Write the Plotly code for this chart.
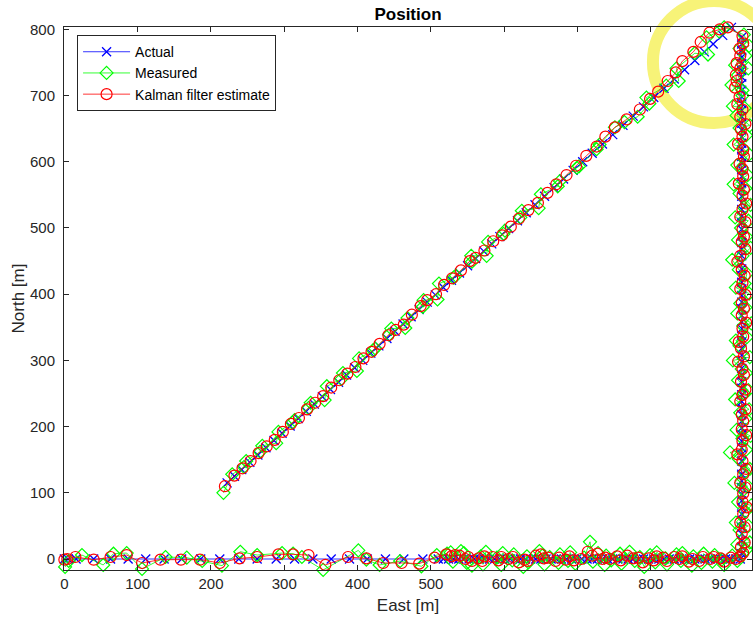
import plotly.graph_objects as go

# ---------------- data (East [m], North [m]) ----------------
# Leg 1: heading east, sparse samples
actual_leg1 = [(0, 0), (5, 0), (16, 0), (40, 0), (63, 0), (87, 0), (111, 0), (136, 0), (160, 0), (186, 0),
               (212, 0), (238, 0), (263, 0), (289, 0), (314, 0), (339, 0), (364, 0), (389, 0), (413, 0),
               (438, 0), (463, 0), (489, 0), (510, 0)]
measured_leg1 = [(1, -12), (6, -3), (24, 6), (53, -9), (67, 8), (85, 9), (106, -15), (138, 3), (167, 2), (188, -3),
                 (215, -10), (240, 11), (263, 6), (297, 9), (312, 8), (324, 3), (353, -16.5), (401, 13), (412, -1),
                 (430, -9), (458, -3), (487, -11), (508, 6)]
kalman_leg1 = [(0, -1), (4, 0), (15, 3), (40, -1), (63, 3), (85, 6), (106, -6), (131, -1), (159, -1), (185, -1),
               (212, -6), (239, 1), (263, 3), (292, 7), (312, 7), (333, 6), (356, -9), (387, 3), (412, 1),
               (435, -6), (460, -6), (484, -7), (505, 2)]

# Leg 2: heading east, dense samples
actual_leg2 = [(517, 0), (524, 0), (531, 0), (538, 0), (545, 0), (552, 0), (559, 0), (566, 0), (573, 0), (580, 0),
               (587, 0), (594, 0), (601, 0), (608, 0), (615, 0), (622, 0), (629, 0), (636, 0), (643, 0), (650, 0),
               (657, 0), (664, 0), (671, 0), (678, 0), (685, 0), (692, 0), (699, 0), (706, 0), (713, 0), (720, 0),
               (727, 0), (734, 0), (741, 0), (748, 0), (755, 0), (762, 0), (769, 0), (776, 0), (783, 0), (790, 0),
               (797, 0), (804, 0), (811, 0), (818, 0), (825, 0), (832, 0), (839, 0), (846, 0), (853, 0), (860, 0),
               (867, 0), (874, 0), (881, 0), (888, 0), (895, 0), (902, 0), (909, 0), (916, 0), (922, 0)]
measured_leg2 = [(522, 8), (530, -4), (527, 10), (541, 12), (549, -6), (545, 9), (556, -10), (568, 4), (571, -8),
                 (575, 11), (590, 2), (596, -9), (598, 9), (611, -2), (613, 7), (626, -12), (631, 4), (633, -5),
                 (648, 12), (652, 5), (655, -8), (662, 3), (674, -6), (676, 7), (687, -3), (690, 10), (697, -7),
                 (709, 2), (717, 26), (721, -4), (728, 9), (737, -9), (739, 5), (746, -2), (758, 8), (760, -7),
                 (771, 11), (778, -3), (785, 3), (791, -12), (799, 6), (806, -5), (808, 10), (820, 1), (822, -8),
                 (835, 7), (841, -3), (843, 9), (856, -10), (858, 4), (869, -6), (872, 8), (884, -4), (887, 6),
                 (897, -1), (900, -9), (911, 5), (918, -3), (925, 8)]
kalman_leg2 = [(521, 7), (528, 4), (533, 6), (539, 5), (547, 0), (551, 3), (556, -3), (565, 1), (570, -3),
               (573, 4), (584, 3), (592, -2), (596, 3), (606, 0), (612, 3), (620, -5), (628, -1), (632, -3),
               (643, 5), (650, 7), (654, 1), (660, 2), (670, -3), (675, 2), (684, -1), (689, 4), (695, -2),
               (705, 0), (714, 11), (720, 5), (727, 8), (734, 0), (738, 2), (744, 0), (754, 4), (759, -2),
               (768, 5), (776, 1), (783, 2), (789, -5), (797, 1), (804, -2), (808, 4), (817, 2), (822, -3),
               (832, 3), (839, 0), (843, 4), (852, -4), (857, 0), (866, -3), (871, 3), (881, 0), (886, 3),
               (895, 1), (900, -4), (909, 2), (916, 0), (922, 4)]

# Leg 3: heading north
actual_leg3 = [(924, 8), (924, 18), (924, 28), (924, 38), (924, 48), (924, 58), (924, 68), (924, 78), (924, 88),
               (924, 98), (924, 108), (924, 118), (924, 128), (924, 138), (924, 148), (924, 158), (924, 168),
               (924, 178), (924, 188), (924, 198), (924, 208), (924, 218), (924, 228), (924, 238), (924, 248),
               (924, 258), (924, 268), (924, 278), (924, 288), (924, 298), (924, 308), (924, 318), (924, 328),
               (924, 338), (924, 348), (924, 358), (924, 368), (924, 378), (924, 388), (924, 398), (924, 408),
               (924, 418), (924, 428), (924, 438), (924, 448), (924, 458), (924, 468), (924, 478), (924, 488),
               (924, 498), (924, 508), (924, 518), (924, 528), (924, 538), (924, 548), (924, 558), (924, 568),
               (924, 578), (924, 588), (924, 598), (924, 608), (924, 618), (924, 628), (924, 638), (924, 648),
               (924, 658), (924, 668), (924, 678), (924, 688), (924, 698), (924, 708), (924, 718), (924, 728),
               (924, 738), (924, 748), (924, 758), (924, 768), (924, 778), (924, 788)]
measured_leg3 = [(930, 14), (918, 22), (935, 25), (921, 44), (933, 50), (916, 55), (929, 72), (937, 81), (919, 86),
                 (926, 104), (932, 110), (914, 115), (928, 131), (935, 136), (920, 151), (908, 161), (930, 165),
                 (925, 182), (936, 186), (917, 195), (929, 212), (922, 221), (934, 226), (915, 241), (927, 250),
                 (933, 255), (919, 270), (930, 281), (924, 287), (912, 300), (935, 305), (921, 322), (916, 330),
                 (931, 335), (926, 352), (937, 356), (918, 371), (929, 380), (922, 386), (934, 401), (916, 410),
                 (928, 416), (931, 431), (920, 437), (911, 452), (925, 458), (936, 470), (919, 482), (930, 487),
                 (923, 500), (933, 511), (915, 516), (927, 531), (936, 535), (921, 552), (929, 560), (913, 566),
                 (932, 580), (924, 591), (918, 595), (934, 611), (926, 620), (913, 626), (930, 640), (921, 651),
                 (935, 655), (917, 670), (928, 681), (912, 684), (925, 700), (910, 716), (925, 708), (919, 731),
                 (933, 741), (915, 746), (929, 760), (921, 771), (934, 775), (927, 792)]
kalman_leg3 = [(926, 9), (923, 18), (928, 25), (924, 38), (928, 48), (922, 55), (926, 68), (931, 78), (925, 86),
               (926, 99), (929, 108), (922, 115), (926, 128), (930, 136), (925, 148), (918, 158), (924, 165),
               (925, 178), (930, 187), (924, 196), (926, 208), (924, 218), (929, 226), (922, 238), (925, 248),
               (929, 256), (923, 268), (927, 278), (925, 287), (919, 298), (927, 306), (923, 318), (920, 328),
               (926, 336), (925, 348), (930, 357), (924, 368), (927, 378), (924, 387), (929, 399), (922, 408),
               (925, 417), (928, 428), (924, 437), (918, 449), (922, 458), (929, 468), (924, 479), (927, 487),
               (925, 498), (929, 509), (922, 517), (925, 528), (930, 537), (925, 549), (927, 558), (920, 567),
               (926, 578), (925, 589), (921, 597), (927, 608), (926, 618), (919, 627), (925, 638), (923, 649),
               (929, 657), (922, 668), (925, 679), (918, 687), (921, 698), (915, 712), (917, 722), (916, 731),
               (922, 741), (917, 749), (922, 760), (921, 771), (926, 779), (925, 790)]

# Leg 4: diagonal back towards south-west
actual_leg4 = [(910, 803), (898, 791), (885, 778), (873, 766), (860, 753), (846, 739), (832, 725), (818, 711),
               (804, 697), (790, 683), (776, 669), (762, 655), (748, 641), (734, 627), (720, 613), (707, 600),
               (694, 587), (681, 574), (668, 561), (655, 548), (642, 535), (630, 523), (618, 511), (606, 499),
               (594, 487), (583, 476), (572, 465), (561, 454), (550, 443), (539, 432), (528, 421), (517, 410),
               (506, 399), (495, 388), (484, 377), (473, 366), (462, 355), (451, 344), (440, 333), (429, 322),
               (418, 311), (407, 300), (396, 289), (385, 278), (374, 267), (363, 256), (352, 245), (341, 234),
               (330, 223), (319, 212), (308, 201), (297, 190), (286, 179), (275, 168), (264, 157), (253, 146),
               (242, 135), (232, 125), (222, 115)]
measured_leg4 = [(900, 803), (893, 797), (876, 788), (878, 762), (860, 764), (835, 741), (838, 722), (821, 715),
                 (794, 697), (798, 688), (782, 668), (764, 660), (751, 652), (730, 626), (726, 619), (702, 593),
                 (699, 591), (676, 571), (673, 563), (650, 551), (647, 530), (624, 526), (622, 516), (601, 496),
                 (599, 491), (578, 479), (576, 458), (555, 458), (556, 449), (534, 428), (531, 425), (511, 416),
                 (509, 392), (490, 391), (489, 381), (468, 364), (465, 349), (446, 348), (443, 339), (424, 318),
                 (421, 315), (402, 303), (399, 284), (380, 281), (378, 272), (358, 261), (355, 240), (336, 236),
                 (333, 228), (314, 210), (311, 206), (292, 192), (289, 175), (270, 171), (267, 162), (248, 148),
                 (245, 139), (229, 128), (217, 100)]
kalman_leg4 = [(905, 803), (894, 800), (880, 795), (868, 781), (858, 766), (843, 752), (834, 735), (823, 722),
               (810, 706), (799, 695), (785, 679), (767, 664), (751, 652), (738, 638), (726, 623), (712, 609),
               (698, 594), (685, 580), (671, 566), (659, 553), (646, 538), (633, 527), (620, 514), (609, 502),
               (597, 489), (585, 480), (573, 466), (561, 455), (553, 450), (541, 436), (529, 424), (518, 414),
               (507, 400), (495, 391), (486, 382), (474, 369), (463, 354), (452, 346), (442, 338), (430, 325),
               (419, 313), (408, 303), (397, 290), (386, 280), (375, 270), (364, 259), (353, 246), (342, 236),
               (331, 226), (320, 213), (309, 204), (298, 192), (287, 180), (276, 170), (265, 160), (254, 148),
               (243, 137), (232, 126), (219, 110)]

actual = actual_leg1 + actual_leg2 + actual_leg3 + actual_leg4
measured = measured_leg1 + measured_leg2 + measured_leg3 + measured_leg4
kalman = kalman_leg1 + kalman_leg2 + kalman_leg3 + kalman_leg4

x_ticks = [0, 100, 200, 300, 400, 500, 600, 700, 800, 900]
y_ticks = [0, 100, 200, 300, 400, 500, 600, 700, 800]

FONT = "Liberation Sans, Arial, Helvetica, sans-serif"
AX = "#262626"

fig = go.Figure()
fig.add_trace(go.Scatter(
    x=[p[0] for p in actual], y=[p[1] for p in actual], name="Actual",
    mode="lines+markers", cliponaxis=False,
    line=dict(color="#0000FF", width=0.8),
    marker=dict(symbol="x-thin-open", size=9, color="#0000FF", line=dict(color="#0000FF", width=1.3))))
fig.add_trace(go.Scatter(
    x=[p[0] for p in measured], y=[p[1] for p in measured], name="Measured",
    mode="lines+markers", cliponaxis=False,
    line=dict(color="#00FF00", width=0.8),
    marker=dict(symbol="diamond-open", size=10, color="#00FF00", line=dict(color="#00FF00", width=1.2))))
fig.add_trace(go.Scatter(
    x=[p[0] for p in kalman], y=[p[1] for p in kalman], name="Kalman filter estimate",
    mode="lines+markers", cliponaxis=False,
    line=dict(color="#FF0000", width=0.8),
    marker=dict(symbol="circle-open", size=11, color="#FF0000", line=dict(color="#FF0000", width=1.2))))

# yellow highlight ring (drawn by hand on the original figure)
fig.add_shape(type="circle", xref="paper", yref="paper",
              x0=0.856, x1=1.0335, y0=0.8232, y1=1.0479,
              line=dict(color="rgb(247,243,120)", width=12), layer="below")

axis_common = dict(showline=True, linecolor=AX, linewidth=1, mirror="ticks",
                   ticks="inside", ticklen=5, tickcolor=AX, tickwidth=1,
                   showgrid=False, zeroline=False,
                   tickfont=dict(family=FONT, size=15, color=AX))

fig.update_layout(
    width=753, height=618,
    margin=dict(l=64, r=1, t=27, b=48),
    paper_bgcolor="white", plot_bgcolor="rgba(0,0,0,0)",
    title=dict(text="<b>Position</b>", x=0.5, xref="paper", xanchor="center",
               y=1 - 14 / 618, yref="container", yanchor="middle",
               font=dict(family=FONT, size=17, color="black")),
    xaxis=dict(range=[-0.5, 938], tickvals=x_ticks, ticktext=[str(v) for v in x_ticks],
               title=dict(text="East [m]", font=dict(family=FONT, size=17, color=AX), standoff=8),
               **axis_common),
    yaxis=dict(range=[-16.6, 803.6], tickvals=y_ticks, ticktext=[str(v) for v in y_ticks],
               title=dict(text="North [m]", font=dict(family=FONT, size=17, color=AX), standoff=1),
               ticklabelstandoff=5,
               **axis_common),
    legend=dict(x=0.019, y=0.985, xanchor="left", yanchor="top",
                bgcolor="white", bordercolor=AX, borderwidth=1,
                font=dict(family=FONT, size=14, color="black"),
                tracegroupgap=0, itemwidth=47),
    showlegend=True,
)

fig.write_html("out.html", config={"displayModeBar": False},
               post_script="document.body.style.margin='0';document.body.style.padding='0';document.body.style.overflow='hidden';")
